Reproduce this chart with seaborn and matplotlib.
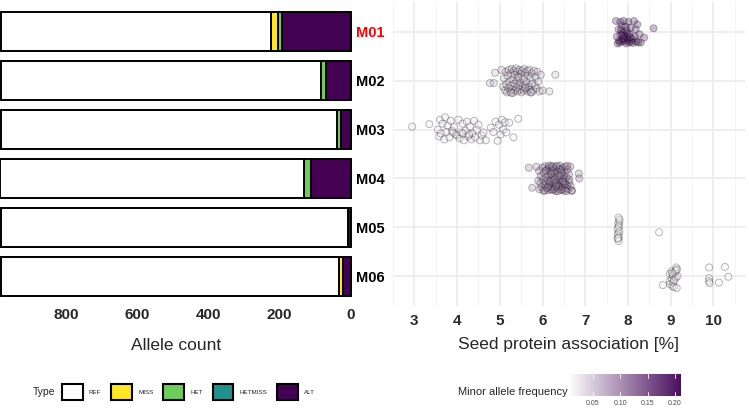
import numpy as np
import pandas as pd
import matplotlib
matplotlib.use("Agg")
import matplotlib.pyplot as plt
import seaborn as sns
from matplotlib.patches import Patch
from matplotlib.colors import LinearSegmentedColormap, Normalize
from matplotlib.cm import ScalarMappable

sns.set_style("white")
plt.rcParams['font.family'] = ['Liberation Sans', 'DejaVu Sans']

# ---------------- data ----------------
markers = ["M01", "M02", "M03", "M04", "M05", "M06"]
types = ["REF", "MISS", "HET", "HETMISS", "ALT"]
type_colors = ["#FFFFFF", "#FDE725", "#6DCD59", "#21918C", "#440154"]

ref_count = [762, 901, 948, 854, 978, 954]
miss_count = [20, 0, 0, 0, 0, 11]
het_count = [11, 15, 10, 19, 0, 0]
hetmiss_count = [0, 0, 0, 0, 0, 0]
alt_count = [193, 70, 28, 113, 8, 21]

maf = [0.211, 0.072, 0.029, 0.118, 0.005, 0.021]
maf_ticks = [0.05, 0.10, 0.15, 0.20]
count_ticks = [0, 200, 400, 600, 800]
protein_ticks = [3, 4, 5, 6, 7, 8, 9, 10]

# (protein %, vertical jitter) per marker
m01_points = [(7.72,-0.22),(7.74,0.10),(7.76,0.24),(7.78,-0.05),(7.79,0.18),(7.80,0.22),(7.82,-0.20),
              (7.83,0.05),(7.85,0.20),(7.86,-0.12),(7.88,0.15),(7.89,0.02),(7.90,-0.22),(7.92,0.20),
              (7.93,0.08),(7.95,-0.10),(7.96,0.24),(7.98,0.12),(8.00,0.18),(8.01,-0.20),(8.03,0.22),
              (8.04,0.05),(8.06,-0.08),(8.08,0.20),(8.10,0.15),(8.12,0.23),(8.14,-0.22),(8.16,0.10),
              (8.18,-0.05),(8.20,0.20),(8.22,-0.15),(8.24,0.22),(8.27,0.05),(8.30,0.22),(8.38,0.12),
              (8.60,-0.07),(7.84,-0.03),(7.91,0.14),(7.97,-0.02),(8.05,0.11),(7.87,0.08),(7.99,0.04)]
m02_points = [(4.77,0.05),(4.86,0.05),(4.89,-0.16),(5.04,-0.22),(5.08,0.12),(5.10,-0.05),(5.12,0.20),
              (5.14,-0.18),(5.15,0.08),(5.17,0.24),(5.18,-0.10),(5.20,0.15),(5.21,-0.22),(5.22,0.02),
              (5.24,0.22),(5.25,-0.15),(5.26,0.10),(5.28,-0.24),(5.29,0.18),(5.30,-0.02),(5.31,0.25),
              (5.33,-0.20),(5.34,0.06),(5.35,-0.12),(5.36,0.20),(5.38,-0.25),(5.39,0.14),(5.40,0.00),
              (5.41,-0.18),(5.42,0.22),(5.44,-0.08),(5.45,0.10),(5.46,-0.22),(5.47,0.18),(5.48,0.04),
              (5.50,-0.14),(5.51,0.24),(5.52,-0.20),(5.53,0.12),(5.55,-0.04),(5.56,0.20),(5.57,-0.24),
              (5.58,0.08),(5.60,-0.16),(5.61,0.16),(5.62,0.02),(5.64,-0.20),(5.65,0.22),(5.66,-0.10),
              (5.68,0.12),(5.69,-0.22),(5.70,0.18),(5.72,-0.05),(5.73,0.24),(5.75,-0.15),(5.76,0.06),
              (5.78,0.20),(5.80,-0.20),(5.82,0.10),(5.84,-0.08),(5.86,0.16),(5.88,-0.18),(5.90,0.02),
              (5.93,0.22),(5.96,-0.12),(6.00,0.20),(6.16,0.22),(6.30,-0.12),(5.27,0.25),(5.43,-0.06),
              (5.59,0.14),(5.74,0.24)]
m03_points = [(2.95,-0.06),(3.35,-0.11),(3.55,0.00),(3.58,0.14),(3.60,-0.20),(3.62,0.08),(3.66,-0.12),
              (3.70,0.20),(3.72,-0.25),(3.75,0.05),(3.78,-0.08),(3.82,0.16),(3.85,-0.18),(3.88,0.02),
              (3.93,-0.05),(3.97,0.10),(4.00,0.12),(4.03,-0.20),(4.06,0.18),(4.10,0.06),(4.13,-0.12),
              (4.16,0.22),(4.20,0.02),(4.23,-0.16),(4.26,0.14),(4.30,-0.06),(4.33,0.20),(4.36,0.08),
              (4.40,-0.18),(4.43,0.16),(4.46,0.00),(4.50,-0.10),(4.54,0.22),(4.58,0.12),(4.62,0.06),
              (4.67,0.22),(4.79,-0.04),(4.85,0.05),(4.90,-0.16),(4.95,0.23),(4.98,-0.10),(5.02,0.10),
              (5.05,-0.20),(5.08,0.00),(5.12,-0.15),(5.15,0.06),(5.22,-0.14),(5.32,0.16),(5.43,-0.22),
              (4.14,0.08),(4.28,0.10),(3.90,0.06)]
m04_points = [(5.68,-0.22),(5.86,-0.24),(5.76,0.19),(6.85,-0.10),(6.86,0.00),(6.69,0.25),(5.90,0.05),
              (5.92,-0.15),(5.93,0.22),(5.95,0.10),(5.96,-0.05),(5.98,0.18),(6.00,-0.22),(6.01,0.02),
              (6.02,0.25),(6.03,-0.12),(6.05,0.14),(6.06,-0.25),(6.07,0.08),(6.08,-0.02),(6.10,0.20),
              (6.11,-0.18),(6.12,0.04),(6.13,0.24),(6.14,-0.08),(6.15,0.15),(6.16,-0.22),(6.17,0.10),
              (6.18,-0.14),(6.19,0.22),(6.20,0.00),(6.21,-0.26),(6.22,0.16),(6.23,-0.06),(6.24,0.24),
              (6.25,0.06),(6.26,-0.20),(6.27,0.12),(6.28,-0.10),(6.29,0.20),(6.30,-0.02),(6.31,0.26),
              (6.32,-0.24),(6.33,0.08),(6.34,-0.14),(6.35,0.18),(6.36,-0.04),(6.37,0.22),(6.38,-0.20),
              (6.39,0.04),(6.40,0.14),(6.41,-0.26),(6.42,0.10),(6.43,-0.08),(6.44,0.24),(6.45,-0.16),
              (6.46,0.02),(6.47,0.18),(6.48,-0.22),(6.49,0.12),(6.50,-0.04),(6.51,0.25),(6.52,-0.12),
              (6.53,0.06),(6.54,-0.24),(6.55,0.20),(6.56,-0.02),(6.58,0.14),(6.59,-0.18),(6.60,0.22),
              (6.62,-0.08),(6.63,0.08),(6.65,-0.24),(6.66,0.16),(6.68,0.25),(6.58,-0.26),(6.12,0.18),
              (6.18,0.06),(6.22,-0.16),(6.26,0.22),(6.30,0.10),(6.34,-0.26),(6.38,0.16),(6.42,-0.18),
              (6.46,0.22),(6.50,0.08),(6.54,0.12),(6.20,-0.10),(6.28,0.02),(6.36,0.26),(6.44,-0.12),
              (6.15,-0.26),(6.05,0.25),(6.24,-0.24),(6.32,0.16),(6.40,-0.06),(6.48,0.06),(6.08,-0.16),
              (6.56,0.26),(6.62,0.02)]
m05_points = [(7.78,-0.20),(7.80,-0.12),(7.77,-0.08),(7.79,-0.04),(7.78,0.00),(7.76,0.04),(7.80,0.08),
              (7.78,0.12),(7.76,0.16),(7.79,0.20),(7.77,0.24),(7.78,0.28),(7.76,0.22),(7.80,-0.16),
              (8.73,0.10)]
m06_points = [(8.82,0.18),(8.98,-0.05),(8.98,0.10),(8.99,0.16),(9.02,-0.10),(9.03,0.05),(9.04,0.20),
              (9.05,-0.02),(9.06,0.12),(9.08,0.22),(9.10,-0.08),(9.12,0.03),(9.13,-0.18),(9.14,0.24),
              (9.15,-0.14),(9.16,0.00),(9.12,-0.12),(9.04,-0.06),(9.08,0.08),(9.90,-0.18),(9.90,0.04),
              (9.90,0.10),(9.91,0.14),(10.13,0.13),(10.27,-0.19),(10.35,0.01)]
points_by_marker = [m01_points, m02_points, m03_points, m04_points, m05_points, m06_points]

# ---------------- tables ----------------
counts = pd.DataFrame({"marker": markers, "REF": ref_count, "MISS": miss_count,
                       "HET": het_count, "HETMISS": hetmiss_count, "ALT": alt_count})
rows = []
for i, (m, pts) in enumerate(zip(markers, points_by_marker)):
    for x, dy in pts:
        rows.append({"marker": m, "protein": x, "ypos": i + dy, "maf": maf[i]})
pts_df = pd.DataFrame(rows)

# ---------------- figure ----------------
W, H = 749, 408
fig = plt.figure(figsize=(W / 100, H / 100), dpi=100)

def box(x0, y0, x1, y1):
    return [x0 / W, 1 - y1 / H, (x1 - x0) / W, (y1 - y0) / H]

ax1 = fig.add_axes(box(0.5, 2.4, 350.7, 305.6))
ax2 = fig.add_axes(box(393, 2.4, 745, 305.6))

# stacked bars (from 0 on the right towards the left)
ypos = np.arange(len(markers))
left = np.zeros(len(markers))
for t, c in zip(reversed(types), reversed(type_colors)):
    vals = counts[t].to_numpy()
    ax1.barh(ypos, vals, left=left, height=0.8, color=c, edgecolor="black",
             linewidth=1.4, clip_on=False)
    left = left + vals
total = max(left)
ax1.set_xlim(total, 0)
ax1.set_ylim(len(markers) - 0.4, -0.6)
ax1.set_yticks([])
ax1.set_xticks(count_ticks)
ax1.set_xticklabels([str(v) for v in count_ticks], fontsize=11, fontweight="bold")
ax1.tick_params(axis="x", length=0, pad=2)
for s in ax1.spines.values():
    s.set_visible(False)

# scatter
cmap = LinearSegmentedColormap.from_list("wp", ["#FFFFFF", "#4A0F5E"])
norm = Normalize(min(maf), max(maf))
sns.scatterplot(data=pts_df, x="protein", y="ypos", hue="maf", palette=cmap,
                hue_norm=norm, legend=False, s=26, alpha=0.28,
                edgecolor="black", linewidth=0.7, ax=ax2, zorder=3)
ax2.set_xlim(2.58, 10.74)
ax2.set_ylim(len(markers) - 0.4, -0.6)
ax2.set_xticks(protein_ticks)
ax2.set_xticks([v + 0.5 for v in protein_ticks[:-1]] + [2.5, 10.5], minor=True)
ax2.set_yticks(ypos)
ax2.set_xticklabels([str(v) for v in protein_ticks], fontsize=11, fontweight="bold", color="#2b2b2b")
ax2.set_yticklabels(markers, fontsize=10.5, fontweight="bold")
for lab, m in zip(ax2.get_yticklabels(), markers):
    lab.set_color("red" if m == "M01" else "black")
ax2.tick_params(axis="both", which="both", length=0)
ax2.tick_params(axis="y", pad=6)
ax2.tick_params(axis="x", pad=6)
ax2.grid(which="major", color="#ebebeb", linewidth=1.2)
ax2.grid(which="minor", axis="x", color="#f2f2f2", linewidth=0.6)
ax2.set_axisbelow(True)
ax2.set_xlabel("")
ax2.set_ylabel("")
for s in ax2.spines.values():
    s.set_visible(False)

# axis titles
fig.text(176 / W, 1 - 345 / H, "Allele count", ha="center", va="center", fontsize=12.5)
fig.text(569 / W, 1 - 345 / H, "Seed protein association [%]", ha="center", va="center", fontsize=12.5)

# type legend
fig.text(33 / W, 1 - 392 / H, "Type", ha="left", va="center", fontsize=7.5)
handles = [Patch(facecolor=c, edgecolor="black", linewidth=1.5, label=t)
           for t, c in zip(types, type_colors)]
fig.legend(handles=handles, loc="center left", bbox_to_anchor=(62 / W, 1 - 392 / H),
           ncol=5, frameon=False, fontsize=4.5, handlelength=3.3, handleheight=3.4,
           handletextpad=1.0, columnspacing=1.6, borderpad=0, borderaxespad=0)

# colour bar legend
fig.text(458 / W, 1 - 392 / H, "Minor allele frequency", ha="left", va="center", fontsize=8)
cax = fig.add_axes(box(568, 374, 681, 396))
cb = fig.colorbar(ScalarMappable(norm=norm, cmap=cmap), cax=cax, orientation="horizontal")
cb.outline.set_visible(False)
cb.set_ticks(maf_ticks)
cb.set_ticklabels([f"{v:.2f}" for v in maf_ticks])
cax.tick_params(length=0, labelsize=5, labelcolor="#4d4d4d", pad=3)
for v in maf_ticks:
    cax.axvline(v, ymin=0, ymax=0.2, color="white", lw=0.6)
    cax.axvline(v, ymin=0.8, ymax=1, color="white", lw=0.6)

fig.savefig("out.png", dpi=100)
